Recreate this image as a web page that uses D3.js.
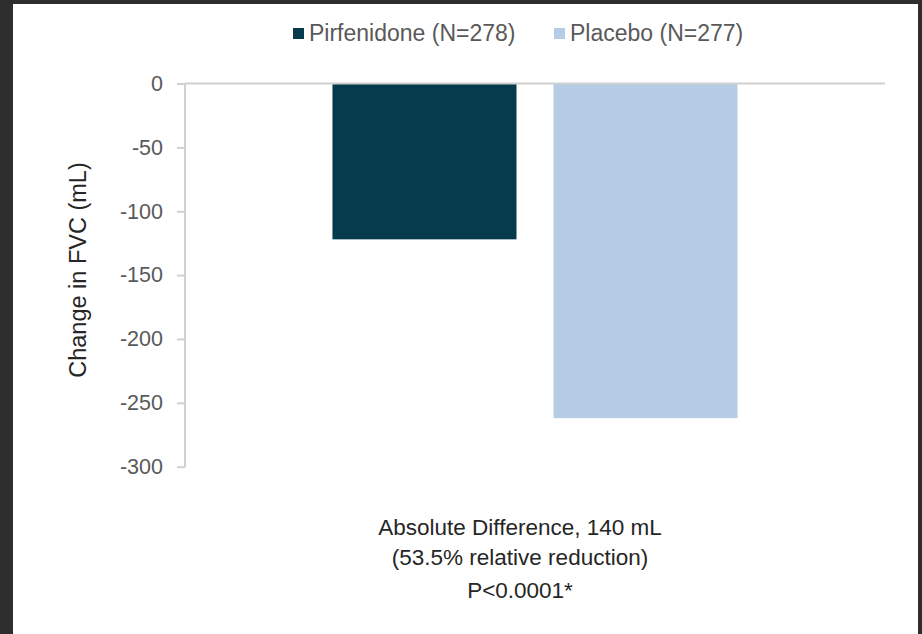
<!DOCTYPE html>
<html>
<head>
<meta charset="utf-8">
<script src="https://cdn.jsdelivr.net/npm/d3@7"></script>
<style>
  html, body { margin: 0; padding: 0; background: #2e2e2e; }
  svg { display: block; }
</style>
</head>
<body>
<svg id="chart" width="922" height="634"></svg>
<script>
// Change in FVC by treatment arm
const category = ["Change in FVC"];
const seriesNames = ["Pirfenidone (N=278)", "Placebo (N=277)"];
const seriesValues = [-122, -262];
const seriesColors = ["#053b4c", "#b5cce4"];
const yTicks = [0, -50, -100, -150, -200, -250, -300];
const yTitle = "Change in FVC (mL)";
const notes = ["Absolute Difference, 140 mL", "(53.5% relative reduction)", "P<0.0001*"];

const font = "'Liberation Sans', Arial, sans-serif";
const svg = d3.select("#chart");

// dark backdrop and white panel
svg.append("rect").attr("width", 922).attr("height", 634).attr("fill", "#2e2e2e");
svg.append("rect").attr("x", 13).attr("y", 4).attr("width", 905).attr("height", 630).attr("fill", "#ffffff");

const plot = { left: 185, right: 885, top: 83.5, bottom: 466.7 };

const y = d3.scaleLinear().domain([0, -300]).range([plot.top, plot.bottom]);
const x0 = d3.scaleBand().domain(category).range([plot.left, plot.right])
  .paddingInner(0).paddingOuter(0.364);
const x1 = d3.scaleBand().domain(seriesNames).range([0, x0.bandwidth()])
  .paddingInner(0.1674).paddingOuter(0);

// bars
const g = svg.append("g");
g.selectAll("rect.bar")
  .data(seriesNames.map((n, i) => ({ name: n, value: seriesValues[i], color: seriesColors[i] })))
  .join("rect")
  .attr("class", "bar")
  .attr("x", d => x0(category[0]) + x1(d.name))
  .attr("width", x1.bandwidth())
  .attr("y", d => y(Math.max(0, d.value)))
  .attr("height", d => Math.abs(y(d.value) - y(0)))
  .attr("fill", d => d.color);

// y axis
const yAxis = d3.axisLeft(y).tickValues(yTicks).tickSize(8).tickPadding(14)
  .tickFormat(d => String(d));
const ya = svg.append("g").attr("transform", `translate(${plot.left},0)`).call(yAxis);
ya.select(".domain").attr("stroke", "#d0d0d0").attr("stroke-width", 2)
  .attr("d", `M0,${plot.top}V${plot.bottom}`);
ya.selectAll(".tick line").attr("stroke", "#d0d0d0").attr("stroke-width", 2);
ya.selectAll(".tick text")
  .attr("fill", "#595959")
  .style("font-family", font)
  .style("font-size", "21.5px");

// zero baseline
svg.append("line")
  .attr("x1", plot.left).attr("x2", plot.right)
  .attr("y1", y(0)).attr("y2", y(0))
  .attr("stroke", "#d0d0d0").attr("stroke-width", 2);

// y axis title
svg.append("text")
  .attr("transform", `translate(86,270) rotate(-90)`)
  .attr("text-anchor", "middle")
  .attr("fill", "#262626")
  .style("font-family", font)
  .style("font-size", "23.5px")
  .text(yTitle);

// legend
const legendX = [293, 554];
const legend = svg.append("g");
seriesNames.forEach((n, i) => {
  legend.append("rect")
    .attr("x", legendX[i]).attr("y", 28).attr("width", 11).attr("height", 11)
    .attr("fill", seriesColors[i]);
  legend.append("text")
    .attr("x", legendX[i] + 16).attr("y", 41)
    .attr("fill", "#595959")
    .style("font-family", font)
    .style("font-size", "23px")
    .text(n);
});

// annotation beneath the plot
const noteX = 520;
const noteY = [535, 565, 598];
notes.forEach((t, i) => {
  svg.append("text")
    .attr("x", noteX)
    .attr("y", noteY[i])
    .attr("text-anchor", "middle")
    .attr("fill", "#262626")
    .style("font-family", font)
    .style("font-size", "22.5px")
    .text(t);
});
</script>
</body>
</html>
